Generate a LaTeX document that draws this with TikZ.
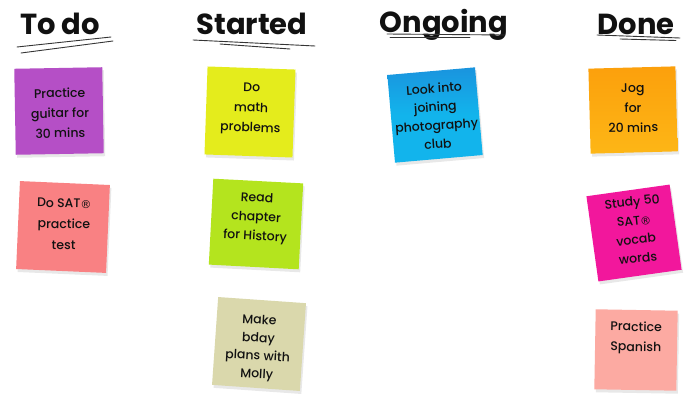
\documentclass[tikz,border=0pt]{standalone}
\usepackage{fontspec}
\setmainfont{Poppins}
\newfontfamily\notefont{Poppins Medium}
\newfontfamily\symfont{DejaVu Sans}
\newcommand{\regmark}{{\symfont\raisebox{-0.05em}{\fontsize{11}{11}\selectfont ®}}}
\usetikzlibrary{shadows}
\definecolor{cpurple}{HTML}{B54FC6}
\definecolor{cyellow}{HTML}{E4EC1C}
\definecolor{cblue}{HTML}{12B4EC}
\definecolor{cbluetop}{HTML}{1A94DE}
\definecolor{corange}{HTML}{FDB616}
\definecolor{corangetop}{HTML}{FCA00C}
\definecolor{csalmon}{HTML}{F98183}
\definecolor{clime}{HTML}{B4E41E}
\definecolor{cbeige}{HTML}{DAD8AC}
\definecolor{cpink}{HTML}{F2179C}
\definecolor{cpeach}{HTML}{FCAAA2}
\definecolor{ink}{HTML}{111111}
\tikzset{
  header/.style={font=\fontsize{29}{30}\selectfont\bfseries, text=ink, anchor=base, inner sep=0pt},
  uline/.style={draw=ink!85, line width=0.9pt, line cap=round},
  note/.style={minimum width=#1, align=center, inner sep=0pt,
    drop shadow={opacity=0.18, shadow xshift=1.5pt, shadow yshift=-3pt}},
  note/.default=88pt,
  notetext/.style={align=center, font=\notefont\fontsize{12.5}{#1}\selectfont, text=ink},
  notetext/.default=20,
}
\begin{document}
\begin{tikzpicture}[x=1pt,y=-1pt]
\useasboundingbox[fill=white] (0,0) rectangle (700,406);
% headers
\node[header] (h1) at (60,35) {To do};
\node[header] (h2) at (252,35) {Started};
\node[header] (h3) at (444,33) {Ongoing};
\node[header] (h4) at (636,35) {Done};
% underlines
\draw[uline] (17,47) -- (111,37);
\draw[uline] (21,53) -- (113,41);
\draw[uline] (193,40) -- (315,46);
\draw[uline] (220,44) -- (290,49);
\draw[uline] (387,34) -- (505,35);
\draw[uline] (390,37.5) -- (470,37.5);
\draw[uline] (597,35) -- (680,38);
\draw[uline] (620,39) -- (676,40.5);
% notes
\node[note, fill=cpurple, minimum height=86pt, rotate=1] (n1) at (59,111) {};
\node[notetext, rotate=1] (t1) at (60,113) {Practice\\guitar for\\30 mins};

\node[note, fill=cyellow, minimum height=88pt, rotate=-2] (n2) at (250,112) {};
\node[notetext, rotate=-2] (t2) at (251,109) {Do\\math\\problems};

\node[note, top color=cbluetop, bottom color=cblue, middle color=cblue, minimum height=88pt, rotate=5] (n3) at (435,115) {};
\node[notetext=18.5, rotate=4] (t3) at (436,116) {Look into\\joining\\photography\\club};

\node[note, top color=corangetop, bottom color=corange, minimum width=87pt, minimum height=85pt, rotate=1.5] (n4) at (633,110) {};
\node[notetext, rotate=1] (t4) at (633,108) {Jog\\for\\20 mins};

\node[note, fill=csalmon, minimum width=90pt, minimum height=88pt, rotate=-2.5] (n5) at (63,227) {};
\node[notetext=21, rotate=-1] (t5) at (64,224) {Do SAT\regmark\\practice\\test};

\node[note, fill=clime, minimum width=90pt, minimum height=86pt, rotate=-3] (n6) at (256,224) {};
\node[notetext=19, rotate=-3] (t6) at (256,218) {Read\\chapter\\for History};

\node[note, fill=cbeige, minimum width=88pt, minimum height=88pt, rotate=-4] (n7) at (259,344) {};
\node[notetext=18, rotate=-3] (t7) at (258,348) {Make\\bday\\plans with\\Molly};

\node[note, fill=cpink, minimum width=84pt, minimum height=86pt, rotate=8] (n8) at (634,233) {};
\node[notetext=19, rotate=6] (t8) at (635,230) {Study 50\\SAT\regmark\\vocab\\words};

\node[note, fill=cpeach, minimum width=82pt, minimum height=80pt, rotate=-1] (n9) at (636,350) {};
\node[notetext, rotate=-1] (t9) at (636,338) {Practice\\Spanish};
\end{tikzpicture}
\end{document}
